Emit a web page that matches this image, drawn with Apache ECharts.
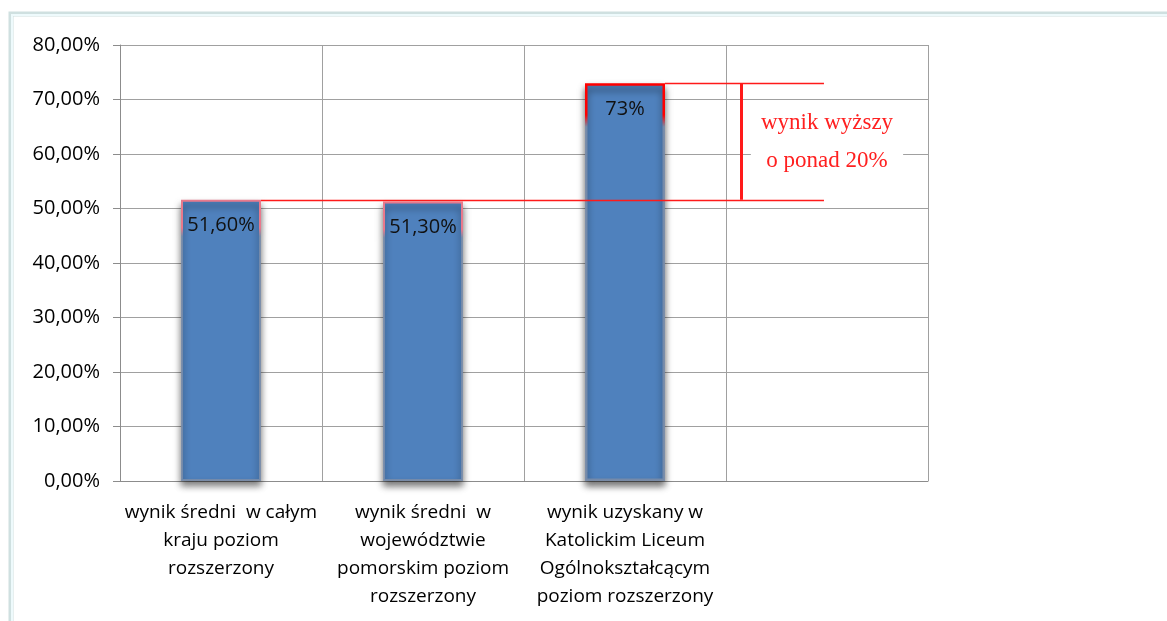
<!DOCTYPE html>
<html lang="pl">
<head>
    <meta charset="UTF-8">
    <title>wynik rozszerzony</title>
    <script src="https://cdn.jsdelivr.net/npm/echarts@6/dist/echarts.min.js"></script>
    <style>
        html, body { margin: 0; padding: 0; background: #fff; }
        #chart { width: 1167px; height: 621px; }
    </style>
</head>
<body>
<div id="chart"></div>
<script>
    // kategorie (ostatnia pusta)
    let categories = [
        'wynik średni  w całym\nkraju poziom\nrozszerzony',
        'wynik średni  w\nwojewództwie\npomorskim poziom\nrozszerzony',
        'wynik uzyskany w\nKatolickim Liceum\nOgólnokształcącym\npoziom rozszerzony',
        ''
    ];
    // wartości w procentach
    let values = [51.6, 51.3, 73];
    let valueLabels = ['51,60%', '51,30%', '73%'];
    let borderColors = ['#e8798c', '#e8798c', '#ff0000'];
    // oś Y
    let yMin = 0, yMax = 80, yStep = 10;
    // adnotacja
    let noteText = 'wynik wyższy\no ponad 20%';

    let chart = echarts.init(document.getElementById('chart'));
    let labelFont = 'Open Sans';

    // obramowanie tylko przy górze słupka
    function topBorder(color, stop) {
        return new echarts.graphic.LinearGradient(0, 0, 0, 1, [
            {offset: 0, color: color},
            {offset: stop, color: color},
            {offset: stop + 0.03, color: 'rgba(120,140,170,0.9)'},
            {offset: 1, color: 'rgba(120,140,170,0.9)'}
        ]);
    }

    let barData = values.map(function (v, i) {
        return {
            value: v,
            itemStyle: {
                borderColor: topBorder(borderColors[i], i === 2 ? 0.08 : 0.1),
                borderWidth: i === 2 ? 2.5 : 2
            },
            label: {formatter: valueLabels[i]}
        };
    });

    // linie adnotacji (oś pomocnicza 0..4 = granice kategorii)
    let lowLevel = values[0], highLevel = values[2];
    let red = '#ff1a1a';
    let thin = {color: red, width: 1.3, type: 'solid', opacity: 1};
    let noteLines = [
        [{coord: [0.698, lowLevel], lineStyle: thin}, {coord: [3.485, lowLevel], lineStyle: thin}],
        [{coord: [2.698, highLevel], lineStyle: thin}, {coord: [3.485, highLevel], lineStyle: thin}],
        [{coord: [3.074, highLevel], lineStyle: {color: red, width: 3}}, {coord: [3.074, lowLevel]}]
    ];

    let option = {
        animation: false,
        grid: {left: 120, right: 239, top: 45, bottom: 140},
        graphic: [
            {
                type: 'rect', silent: true,
                shape: {x: 11, y: 14, width: 1200, height: 640},
                style: {fill: 'none', stroke: '#cfe0e0', lineWidth: 5}
            },
            {
                type: 'rect', silent: true,
                shape: {x: 12, y: 15, width: 1200, height: 640},
                style: {fill: 'none', stroke: '#eefafc', lineWidth: 2}
            }
        ],
        xAxis: [
            {
                type: 'category',
                data: categories,
                axisLine: {lineStyle: {color: '#8c8c8c'}},
                axisTick: {length: 7, lineStyle: {color: '#8c8c8c'}},
                splitLine: {show: true, lineStyle: {color: '#a0a0a0'}},
                axisLabel: {
                    color: '#000', fontSize: 19, fontFamily: labelFont,
                    lineHeight: 28, margin: 18, interval: 0
                }
            },
            {
                type: 'value', min: 0, max: 4, show: false, position: 'top'
            }
        ],
        yAxis: {
            type: 'value',
            min: yMin, max: yMax, interval: yStep,
            axisLine: {show: true, lineStyle: {color: '#8c8c8c'}},
            axisTick: {show: true, length: 7, lineStyle: {color: '#8c8c8c'}},
            splitLine: {lineStyle: {color: '#a0a0a0'}},
            axisLabel: {
                color: '#000', fontSize: 20, fontFamily: labelFont, margin: 20,
                formatter: function (v) {
                    return v.toFixed(2).replace('.', ',') + '%';
                }
            }
        },
        series: [
            {
                type: 'bar',
                data: barData,
                barWidth: 80,
                itemStyle: {
                    color: '#4f81bd',
                    shadowColor: 'rgba(0,0,0,0.55)',
                    shadowBlur: 7,
                    shadowOffsetY: 5
                },
                label: {
                    show: true, position: 'insideTop', distance: 16,
                    color: '#111', fontSize: 20, fontFamily: labelFont
                }
            },
            {
                type: 'scatter',
                xAxisIndex: 1,
                data: [],
                markLine: {
                    silent: true,
                    symbol: 'none',
                    z: 10,
                    label: {show: false},
                    lineStyle: thin,
                    data: noteLines
                },
                markPoint: {
                    silent: true,
                    symbol: 'rect',
                    symbolSize: 0,
                    data: [{
                        coord: [3.5, 62.3],
                        label: {
                            show: true,
                            formatter: noteText,
                            color: '#ff2020',
                            fontSize: 23,
                            fontFamily: 'Liberation Serif',
                            lineHeight: 38,
                            backgroundColor: '#fff',
                            padding: [0, 10]
                        }
                    }]
                }
            }
        ]
    };
    chart.setOption(option);
</script>
</body>
</html>
